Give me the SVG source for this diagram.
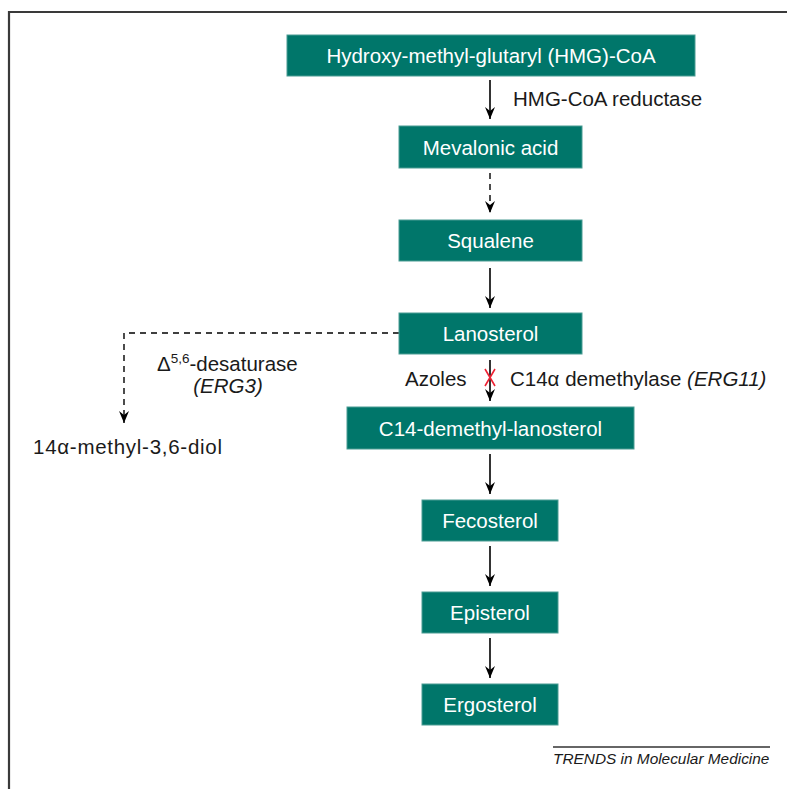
<svg xmlns="http://www.w3.org/2000/svg" width="787" height="789" viewBox="0 0 787 789">
<defs>
<style>
.box{fill:#00766a;stroke:#4a9c93;stroke-width:1}
.bt{font-family:"Liberation Sans",Arial,sans-serif;font-size:20.5px;fill:#ffffff;text-anchor:middle}
.lbl{font-family:"Liberation Sans",Arial,sans-serif;font-size:20.5px;fill:#1a1a1a}
.it{font-style:italic}
.sm{font-size:15.4px}
.arr{stroke:#000;stroke-width:1.6;fill:none}
.dash{stroke:#000;stroke-width:1.4;fill:none;stroke-dasharray:6,5}
</style>
<marker id="ahv" viewBox="0 0 14 10" refX="14" refY="5" markerWidth="14" markerHeight="10" markerUnits="userSpaceOnUse" orient="auto">
<path d="M2,0 L14,5 L2,10 L6,5 Z" fill="#000"/>
</marker>
</defs>
<rect width="787" height="789" fill="#fff"/>
<path d="M9,789 V12 H787" stroke="#3a3a3a" stroke-width="2.2" fill="none"/>

<g id="connectors">
<line class="arr" x1="490" y1="80" x2="490" y2="119" marker-end="url(#ahv)"/>
<line class="dash" x1="490" y1="173" x2="490" y2="213" marker-end="url(#ahv)"/>
<line class="arr" x1="490" y1="268" x2="490" y2="308" marker-end="url(#ahv)"/>
<line class="arr" x1="490" y1="360" x2="490" y2="401" marker-end="url(#ahv)"/>
<line class="arr" x1="490" y1="454" x2="490" y2="494" marker-end="url(#ahv)"/>
<line class="arr" x1="490" y1="546" x2="490" y2="586" marker-end="url(#ahv)"/>
<line class="arr" x1="490" y1="638" x2="490" y2="678" marker-end="url(#ahv)"/>
<path class="dash" d="M399,333 H124 V423" marker-end="url(#ahv)"/>
<path d="M485,369 L495,386 M495,369 L485,386" stroke="#ee2233" stroke-width="1.6" fill="none"/>
</g>

<g id="hmg"><rect class="box" x="287" y="35" width="408" height="41"/><text class="bt" x="491" y="62.5">Hydroxy-methyl-glutaryl (HMG)-CoA</text></g>
<g id="mevalonic"><rect class="box" x="399" y="126" width="183" height="42"/><text class="bt" x="490.5" y="154.5">Mevalonic acid</text></g>
<g id="squalene"><rect class="box" x="399" y="220" width="183" height="41"/><text class="bt" x="490.5" y="248">Squalene</text></g>
<g id="lanosterol"><rect class="box" x="399" y="313" width="183" height="41"/><text class="bt" x="490.5" y="341">Lanosterol</text></g>
<g id="c14"><rect class="box" x="347" y="407" width="287" height="42"/><text class="bt" x="490.5" y="435.5">C14-demethyl-lanosterol</text></g>
<g id="fecosterol"><rect class="box" x="422" y="500" width="136" height="41"/><text class="bt" x="490" y="528">Fecosterol</text></g>
<g id="episterol"><rect class="box" x="422" y="592" width="136" height="41"/><text class="bt" x="490" y="620">Episterol</text></g>
<g id="ergosterol"><rect class="box" x="422" y="684" width="136" height="41"/><text class="bt" x="490" y="712">Ergosterol</text></g>

<g id="labels">
<text class="lbl" x="513" y="106">HMG-CoA reductase</text>
<text class="lbl" x="157" y="371">Δ<tspan style="font-size:13.5px" dy="-8">5,6</tspan><tspan dy="8">-desaturase</tspan></text>
<text class="lbl it" x="228" y="393" text-anchor="middle">(ERG3)</text>
<text class="lbl" x="33" y="454" textLength="189" lengthAdjust="spacing">14α-methyl-3,6-diol</text>
<text class="lbl" x="405" y="386">Azoles</text>
<text class="lbl" x="510" y="386">C14α demethylase <tspan class="it">(ERG11)</tspan></text>
<line x1="553" y1="747" x2="770" y2="747" stroke="#333" stroke-width="1.3"/>
<text class="lbl it sm" x="553" y="764">TRENDS in Molecular Medicine</text>
</g>
</svg>
